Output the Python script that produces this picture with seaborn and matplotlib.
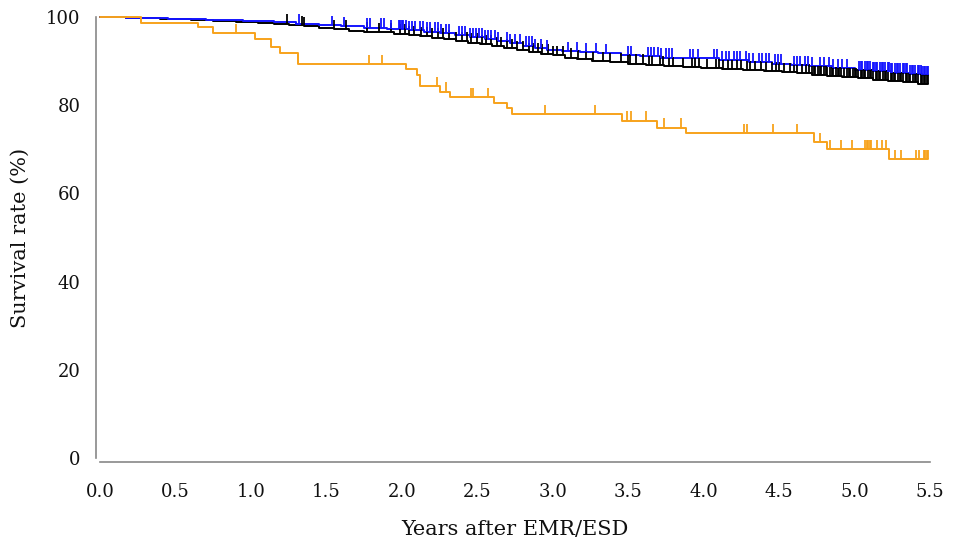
import numpy as np
import pandas as pd
import matplotlib
matplotlib.use("Agg")
import matplotlib.pyplot as plt
import seaborn as sns

# Kaplan-Meier step curves: event times (years) and survival (%) after each event
black_times = [0.0, 0.17, 0.40, 0.60, 0.75, 0.90, 1.05, 1.15, 1.25, 1.35, 1.45, 1.55, 1.65,
               1.75, 1.85, 1.95, 2.05, 2.12, 2.20, 2.28, 2.36, 2.44, 2.52, 2.60, 2.68, 2.76,
               2.84, 2.92, 3.00, 3.08, 3.16, 3.26, 3.38, 3.50, 3.62, 3.74, 3.86, 3.98, 4.12,
               4.26, 4.40, 4.52, 4.62, 4.72, 4.82, 4.92, 5.02, 5.12, 5.22, 5.32, 5.42]
black_surv = [100.0, 99.7, 99.5, 99.3, 99.1, 98.9, 98.7, 98.5, 98.2, 97.9, 97.5, 97.2, 96.9,
              96.7, 96.5, 96.2, 95.9, 95.6, 95.3, 95.0, 94.6, 94.2, 93.8, 93.4, 93.0, 92.5,
              92.1, 91.7, 91.3, 90.8, 90.4, 90.0, 89.7, 89.4, 89.1, 88.9, 88.7, 88.4, 88.2,
              88.0, 87.8, 87.5, 87.2, 86.9, 86.6, 86.4, 86.1, 85.8, 85.5, 85.2, 84.9]

blue_times = [0.0, 0.17, 0.45, 0.70, 0.95, 1.15, 1.30, 1.45, 1.60, 1.75, 1.90, 2.05, 2.15,
              2.25, 2.35, 2.45, 2.55, 2.63, 2.72, 2.80, 2.88, 2.96, 3.06, 3.18, 3.30, 3.45,
              3.58, 3.72, 3.88, 4.10, 4.30, 4.45, 4.58, 4.70, 4.85, 5.00, 5.12, 5.24, 5.36,
              5.45]
blue_surv = [100.0, 99.7, 99.5, 99.3, 99.1, 98.8, 98.5, 98.2, 97.9, 97.6, 97.3, 97.0, 96.7,
             96.3, 95.9, 95.5, 95.0, 94.5, 94.0, 93.5, 93.0, 92.6, 92.3, 92.0, 91.8, 91.4,
             91.1, 90.8, 90.6, 90.2, 89.8, 89.4, 89.1, 88.8, 88.4, 88.0, 87.7, 87.4, 87.1,
             86.8]

orange_times = [0.0, 0.27, 0.65, 0.75, 1.03, 1.13, 1.19, 1.31, 2.03, 2.10, 2.12, 2.25, 2.32,
                2.61, 2.70, 2.73, 3.46, 3.69, 3.88, 4.73, 4.82, 5.23]
orange_surv = [100.0, 98.6, 97.7, 96.3, 94.9, 93.3, 91.8, 89.3, 88.2, 86.8, 84.4, 83.1, 81.8,
               80.6, 79.3, 77.9, 76.5, 74.9, 73.6, 71.7, 70.1, 67.7]

# Censored observations (years)
black_censor = [1.24, 1.34, 1.35, 1.55, 1.63, 1.77, 1.85, 1.93, 1.99, 2.02, 2.05, 2.08, 2.13,
                2.17, 2.20, 2.24, 2.27, 2.31, 2.36, 2.40, 2.43, 2.46, 2.50, 2.53, 2.56, 2.59,
                2.63, 2.66, 2.70, 2.73, 2.76, 2.80, 2.84, 2.87, 2.90, 2.93, 2.97, 3.00, 3.03,
                3.07, 3.12, 3.17, 3.22, 3.27, 3.33, 3.38, 3.45, 3.50, 3.51, 3.55, 3.60, 3.64,
                3.66, 3.71, 3.73, 3.77, 3.80, 3.86, 3.92, 3.94, 3.97, 4.02, 4.08, 4.10, 4.13,
                4.16, 4.19, 4.22, 4.25, 4.29, 4.31, 4.34, 4.38, 4.41, 4.45, 4.48, 4.50, 4.53,
                4.57, 4.60, 4.62, 4.65, 4.68, 4.70, 4.72, 4.73, 4.74, 4.76, 4.77, 4.78, 4.80,
                4.81, 4.82, 4.84, 4.85, 4.86, 4.88, 4.89, 4.90, 4.91, 4.93, 4.95, 4.96, 4.97,
                4.99, 5.00, 5.01, 5.02, 5.04, 5.05, 5.06, 5.07, 5.09, 5.10, 5.11, 5.12, 5.14,
                5.15, 5.16, 5.17, 5.19, 5.20, 5.21, 5.22, 5.24, 5.25, 5.26, 5.27, 5.29, 5.30,
                5.31, 5.32, 5.34, 5.35, 5.36, 5.37, 5.39, 5.40, 5.41, 5.42, 5.44, 5.45, 5.46,
                5.47, 5.48, 5.49]
blue_censor = [1.32, 1.54, 1.62, 1.77, 1.79, 1.86, 1.88, 1.93, 1.98, 1.99, 2.00, 2.01, 2.03,
               2.05, 2.07, 2.09, 2.12, 2.14, 2.17, 2.19, 2.22, 2.24, 2.26, 2.29, 2.31, 2.38,
               2.40, 2.42, 2.45, 2.47, 2.49, 2.51, 2.53, 2.55, 2.57, 2.59, 2.62, 2.64, 2.70,
               2.72, 2.75, 2.78, 2.82, 2.84, 2.86, 2.88, 2.92, 2.96, 3.10, 3.16, 3.22, 3.29,
               3.35, 3.50, 3.52, 3.63, 3.65, 3.67, 3.70, 3.72, 3.75, 3.77, 3.79, 3.91, 3.93,
               3.96, 4.07, 4.09, 4.12, 4.15, 4.17, 4.20, 4.22, 4.24, 4.28, 4.30, 4.33, 4.37,
               4.39, 4.41, 4.43, 4.47, 4.49, 4.51, 4.60, 4.62, 4.64, 4.67, 4.69, 4.72, 4.77,
               4.80, 4.83, 4.86, 4.89, 4.92, 4.95, 5.03, 5.04, 5.05, 5.07, 5.08, 5.09, 5.10,
               5.12, 5.13, 5.14, 5.15, 5.17, 5.18, 5.19, 5.20, 5.22, 5.23, 5.24, 5.25, 5.27,
               5.28, 5.29, 5.30, 5.32, 5.33, 5.34, 5.35, 5.37, 5.38, 5.39, 5.40, 5.42, 5.43,
               5.44, 5.45, 5.46, 5.47, 5.48, 5.49]
orange_censor = [0.90, 1.31, 1.78, 1.87, 2.23, 2.29, 2.46, 2.47, 2.57, 2.95, 3.28, 3.49, 3.52,
                 3.62, 3.74, 3.85, 4.27, 4.29, 4.46, 4.62, 4.77, 4.84, 4.91, 4.98, 5.07, 5.08,
                 5.09, 5.10, 5.11, 5.15, 5.18, 5.21, 5.27, 5.31, 5.41, 5.43, 5.46, 5.47, 5.48,
                 5.49]

end_time = 5.49
x_ticks = [0.0, 0.5, 1.0, 1.5, 2.0, 2.5, 3.0, 3.5, 4.0, 4.5, 5.0, 5.5]
y_ticks = [0, 20, 40, 60, 80, 100]

groups = ["black", "blue", "orange"]
colors = {"black": "#000000", "blue": "#1414ff", "orange": "#f7a21b"}
curves = {
    "black": (black_times, black_surv, black_censor),
    "blue": (blue_times, blue_surv, blue_censor),
    "orange": (orange_times, orange_surv, orange_censor),
}

line_rows, cens_rows = [], []
for g in groups:
    t, s, c = curves[g]
    for ti, si in zip(list(t) + [end_time], list(s) + [s[-1]]):
        line_rows.append({"group": g, "time": ti, "surv": si})
    # survival level in effect at each censoring time
    idx = np.searchsorted(np.asarray(t), np.asarray(c), side="right") - 1
    for ci, k in zip(c, idx):
        cens_rows.append({"group": g, "time": ci, "surv": s[k]})
lines = pd.DataFrame(line_rows)
cens = pd.DataFrame(cens_rows)

sns.set_theme(style="white")
plt.rcParams["font.family"] = ["DejaVu Serif"]

fig = plt.figure(figsize=(9.57, 5.43), dpi=100)
ax = fig.add_axes([100 / 957, 85 / 543, 830 / 957, 441 / 543])

sns.lineplot(data=lines, x="time", y="surv", hue="group", hue_order=groups,
             palette=colors, drawstyle="steps-post", estimator=None, sort=False,
             linewidth=1.4, legend=False, ax=ax, clip_on=False)

# censoring marks: short upward ticks from the curve
tick_len = 2.1
for g in groups:
    sub = cens[cens["group"] == g]
    ax.vlines(sub["time"], sub["surv"], sub["surv"] + tick_len, colors=colors[g],
              linewidth=1.3, clip_on=False, zorder=3)

ax.set_xlim(0, 5.5)
ax.set_ylim(0, 100)
ax.set_xticks(x_ticks)
ax.set_xticklabels([f"{v:.1f}" for v in x_ticks])
ax.set_yticks(y_ticks)
ax.set_yticklabels([str(v) for v in y_ticks])

sns.despine(ax=ax, offset=3)
for side in ("left", "bottom"):
    ax.spines[side].set_color("#888888")
    ax.spines[side].set_linewidth(1.2)
ax.tick_params(axis="both", which="both", direction="out", length=5, width=1.1,
               color="#888888", labelsize=13, labelcolor="#111111", pad=6)
ax.tick_params(axis="x", pad=10)
ax.set_xlabel("Years after EMR/ESD", fontsize=15, labelpad=14, color="#111111")
ax.set_ylabel("Survival rate (%)", fontsize=15, labelpad=12, color="#111111")

fig.savefig("out.png", dpi=100, facecolor="white")
